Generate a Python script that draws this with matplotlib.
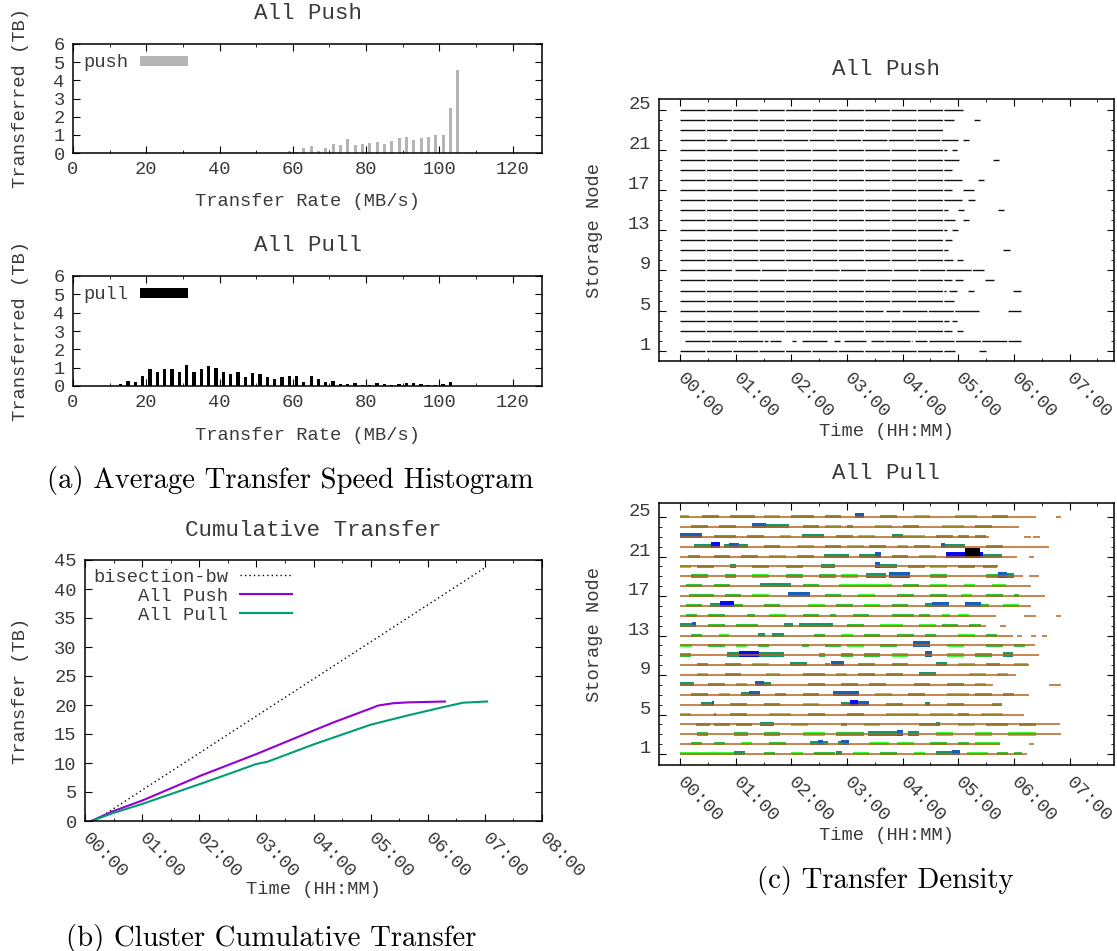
import numpy as np
import matplotlib
matplotlib.use("Agg")
import matplotlib.pyplot as plt
from matplotlib import transforms

# ---------------- (a) average transfer speed histogram ----------------
push_rate = [59, 61, 63, 65, 67, 69, 71, 73, 75, 77, 79, 81,
             83, 85, 87, 89, 91, 93, 95, 97, 99, 101, 103, 105]
push_tb = [0.13, 0.07, 0.26, 0.37, 0.13, 0.29, 0.51, 0.46, 0.75, 0.46, 0.51, 0.57,
           0.62, 0.51, 0.68, 0.84, 0.90, 0.73, 0.84, 0.90, 1.00, 1.00, 2.50, 4.57]

pull_rate = [13, 15, 17, 19, 21, 23, 25, 27, 29, 31, 33, 35, 37, 39, 41, 43,
             45, 47, 49, 51, 53, 55, 57, 59, 61, 63, 65, 67, 69, 71, 73, 75,
             77, 79, 81, 83, 85, 87, 89, 91, 93, 95, 97, 99, 101, 103]
pull_tb = [0.11, 0.27, 0.22, 0.56, 0.92, 0.76, 0.92, 0.92, 0.76, 1.14, 0.76, 0.92,
           1.09, 0.98, 0.76, 0.65, 0.76, 0.51, 0.69, 0.65, 0.51, 0.40, 0.51, 0.56,
           0.56, 0.22, 0.56, 0.40, 0.22, 0.27, 0.11, 0.11, 0.14, 0.07, 0.07, 0.14,
           0.11, 0.07, 0.11, 0.14, 0.14, 0.11, 0.05, 0.05, 0.11, 0.22]

# ---------------- (b) cumulative transfer (hours, TB) ----------------
bisect_t = [0.24, 7.03]
bisect_tb = [0.46, 43.85]
cum_push_t = [0.11, 0.47, 1.02, 2.02, 2.99, 4.00, 4.35, 5.00, 5.13, 5.39, 5.65, 6.30]
cum_push_tb = [0.0, 1.6, 3.6, 7.8, 11.5, 15.6, 17.0, 19.4, 19.9, 20.3, 20.45, 20.6]
cum_pull_t = [0.11, 0.47, 1.02, 2.02, 2.54, 2.99, 3.19, 4.00, 5.00, 5.65, 6.30, 6.62, 7.04]
cum_pull_tb = [0.0, 1.3, 3.0, 6.4, 8.2, 9.8, 10.2, 13.2, 16.6, 18.2, 19.7, 20.4, 20.6]

hour_ticks = [0, 1, 2, 3, 4, 5, 6, 7, 8]
hour_labels = ['00:00', '01:00', '02:00', '03:00', '04:00', '05:00', '06:00', '07:00', '08:00']

# ---------------- (c) transfer density, storage nodes 1..25 ----------------
nodes = list(range(1, 26))

# push: one long run per node, with gaps and a few late short runs
push_begin = [0, 0.08, 0, 0, 0, 0, 0, 0, 0, 0, 0, 0, 0,
              0, 0, 0, 0, 0, 0, 0, 0, 0, 0, 0, 0]
push_end = [4.94, 6.13, 4.88, 4.84, 5.38, 4.93, 4.78, 4.89, 5.46, 4.90, 4.81, 4.73, 4.80,
            4.94, 4.81, 5.06, 4.89, 5.06, 4.89, 5.02, 4.80, 5.00, 4.73, 4.93, 5.08]
push_gap_t0 = [[], [1.58, 1.81, 2.09, 2.66, 2.88, 3.34, 3.66, 4.16, 4.44], [], [], [3.65, 3.95],
               [], [], [], [0.95], [], [], [], [], [], [], [], [], [], [], [], [], [0.85], [], [], []]
push_gap_t1 = [[], [1.61, 2.01, 2.19, 2.77, 2.95, 3.44, 3.69, 4.22, 4.47], [], [], [3.70, 3.99],
               [], [], [], [0.99], [], [], [], [], [], [], [], [], [], [], [], [], [0.90], [], [], []]
push_xtra_t0 = [[5.38], [], [4.97], [4.88], [5.90], [], [4.84, 5.18, 5.98], [4.94, 5.48], [],
                [4.97], [5.81], [4.77], [4.88], [5.09], [5.00, 5.72], [5.18], [5.08], [5.36],
                [], [5.63], [4.88], [5.08], [], [5.29], []]
push_xtra_t1 = [[5.49], [], [5.08], [4.98], [6.13], [], [4.97, 5.28, 6.13], [5.09, 5.64], [],
                [5.09], [5.93], [4.89], [5.00], [5.20], [5.10, 5.83], [5.31], [5.28], [5.47],
                [], [5.73], [4.97], [5.20], [], [5.39], []]

# pull: base line per node, late short runs, and density blocks (level 1..6)
pull_end = [6.23, 5.75, 6.84, 6.83, 6.19, 5.78, 6.28, 5.63, 6.04, 6.27, 6.46, 6.38, 5.99,
            5.49, 5.67, 6.31, 6.56, 6.30, 6.17, 5.71, 6.06, 6.64, 5.56, 6.09, 6.39]
pull_xtra_t0 = [[], [6.28], [], [], [], [], [], [6.63], [], [], [], [], [6.06, 6.30, 6.50],
                [5.75], [6.19, 6.75], [], [], [], [6.28], [], [6.28], [], [6.19, 6.35], [], [6.75]]
pull_xtra_t1 = [[], [6.37], [], [], [], [], [], [6.84], [], [], [], [], [6.15, 6.40, 6.60],
                [5.85], [6.40, 6.84], [], [], [], [6.45], [], [6.37], [], [6.30, 6.47], [], [6.84]]
pull_blk_t0 = [
    [0.00, 0.97, 2.40, 2.81, 3.10, 4.60, 4.88, 5.16, 5.70, 1.50, 2.00, 3.60, 4.20, 6.00],
    [0.20, 1.60, 2.34, 2.47, 2.56, 2.84, 2.90, 3.40, 3.90, 5.30, 0.60, 1.10, 4.50, 5.00],
    [0.30, 0.97, 2.20, 3.38, 3.90, 4.10, 5.30, 5.90, 1.50, 2.80, 4.60, 3.10],
    [0.28, 1.00, 1.44, 2.90, 4.30, 4.60, 5.50, 0.60, 2.00, 3.30, 5.00, 6.10],
    [0.00, 0.60, 1.60, 3.70, 4.50, 5.40, 0.90, 2.30, 3.00, 5.00],
    [0.38, 0.57, 1.50, 2.90, 3.06, 3.20, 4.40, 5.60, 0.90, 2.20, 3.70, 4.80],
    [1.10, 1.23, 1.70, 2.20, 2.74, 4.80, 5.30, 0.20, 0.70, 3.50, 4.10, 5.80],
    [0.00, 1.35, 1.50, 2.30, 3.40, 4.20, 0.50, 1.00, 2.90, 4.80, 5.30],
    [0.30, 1.54, 2.20, 3.20, 4.30, 5.20, 0.80, 2.80, 3.70, 5.70],
    [0.30, 1.97, 2.60, 2.72, 4.60, 5.50, 6.00, 0.80, 1.30, 3.20, 3.80, 5.00],
    [0.00, 0.85, 1.06, 1.41, 2.50, 3.30, 4.40, 5.80, 2.90, 3.80, 4.80, 5.30],
    [0.00, 1.40, 2.19, 3.00, 4.19, 5.50, 0.50, 1.00, 2.60, 3.60, 4.80, 6.00],
    [0.69, 1.40, 1.66, 2.40, 3.30, 4.40, 0.20, 2.90, 3.90, 5.00, 5.50],
    [0.00, 0.22, 1.86, 2.13, 3.60, 4.70, 0.50, 1.00, 3.00, 4.30, 5.20],
    [0.50, 1.20, 2.70, 3.80, 4.70, 5.00, 0.10, 1.60, 2.20, 3.10, 4.30],
    [0.53, 0.72, 0.97, 2.30, 4.40, 4.53, 5.13, 5.41, 0.10, 1.50, 2.80, 3.30, 3.80, 5.80],
    [0.16, 1.94, 3.90, 5.05, 6.00, 0.80, 1.30, 2.60, 3.20, 4.50, 5.50],
    [0.60, 1.44, 2.85, 5.10, 5.60, 0.10, 2.20, 4.00, 4.50],
    [0.80, 3.35, 3.75, 5.50, 5.72, 5.87, 0.20, 1.30, 1.90, 2.50, 2.90, 4.50],
    [0.00, 0.90, 2.53, 3.50, 3.60, 4.50, 5.45, 0.30, 1.30, 1.90, 4.10, 5.00],
    [0.15, 2.59, 3.22, 3.50, 4.78, 5.13, 5.39, 5.44, 0.60, 1.10, 1.60, 2.10, 3.80, 4.30],
    [0.25, 0.56, 0.78, 0.88, 1.06, 3.00, 3.90, 4.69, 4.76, 1.50, 2.10, 2.60, 3.40, 4.20, 5.50],
    [0.00, 0.60, 1.80, 2.19, 3.80, 4.00, 5.00, 1.20, 2.80, 3.20, 4.60, 5.30],
    [1.29, 1.54, 3.00, 3.50, 4.70, 0.20, 0.70, 2.20, 2.60, 4.00, 5.30],
    [0.00, 0.90, 2.00, 3.14, 4.94, 0.40, 1.50, 2.60, 3.60, 4.20, 5.60],
]
pull_blk_t1 = [
    [0.97, 1.16, 2.78, 2.91, 3.40, 4.88, 5.03, 5.53, 5.90, 1.70, 2.20, 3.90, 4.40, 6.15],
    [0.40, 1.90, 2.47, 2.56, 2.65, 2.90, 3.03, 3.75, 4.20, 5.75, 0.80, 1.30, 4.80, 5.20],
    [0.50, 1.22, 2.60, 3.90, 4.00, 4.30, 5.60, 6.40, 1.80, 3.10, 4.90, 3.30],
    [0.53, 1.30, 1.69, 3.00, 4.60, 4.68, 5.90, 0.90, 2.30, 3.60, 5.30, 6.40],
    [0.20, 0.65, 2.00, 4.30, 4.90, 5.80, 1.20, 2.60, 3.30, 5.20],
    [0.57, 0.60, 1.80, 3.06, 3.20, 3.40, 4.50, 5.78, 1.20, 2.50, 4.00, 5.10],
    [1.23, 1.44, 1.90, 2.50, 3.22, 5.20, 5.60, 0.50, 0.90, 3.80, 4.40, 6.00],
    [0.25, 1.50, 1.64, 2.60, 3.70, 4.50, 0.80, 1.20, 3.20, 5.10, 5.50],
    [0.50, 1.80, 2.60, 3.50, 4.60, 5.50, 1.10, 3.00, 4.00, 5.90],
    [0.50, 2.28, 2.70, 2.94, 4.80, 5.75, 6.25, 1.10, 1.60, 3.50, 4.10, 5.30],
    [0.20, 1.06, 1.41, 1.87, 2.60, 3.60, 4.53, 5.98, 3.10, 4.10, 5.10, 5.60],
    [0.22, 1.60, 2.32, 3.30, 4.50, 5.80, 0.80, 1.20, 2.90, 3.90, 5.10, 6.20],
    [0.88, 1.53, 1.87, 2.60, 3.60, 4.60, 0.40, 3.10, 4.20, 5.30, 5.70],
    [0.22, 0.28, 2.03, 2.75, 4.00, 5.00, 0.80, 1.40, 3.30, 4.60, 5.40],
    [0.80, 1.35, 2.80, 4.20, 4.85, 5.20, 0.30, 1.90, 2.50, 3.40, 4.50],
    [0.72, 0.97, 1.13, 2.60, 4.53, 4.84, 5.41, 5.56, 0.40, 1.80, 3.10, 3.60, 4.10, 6.10],
    [0.60, 2.34, 4.20, 5.25, 6.10, 1.10, 1.60, 2.90, 3.50, 4.80, 5.80],
    [0.90, 2.00, 3.80, 5.30, 5.85, 0.40, 2.50, 4.30, 4.80],
    [1.00, 3.70, 4.13, 5.72, 5.87, 6.00, 0.50, 1.60, 2.20, 2.80, 3.20, 4.80],
    [0.20, 1.00, 2.78, 3.60, 3.90, 4.80, 5.70, 0.60, 1.60, 2.20, 4.40, 5.30],
    [0.35, 3.03, 3.50, 3.62, 5.13, 5.39, 5.44, 5.78, 0.90, 1.40, 1.90, 2.40, 4.10, 4.60],
    [0.56, 0.72, 0.88, 1.06, 1.22, 3.30, 4.10, 4.76, 5.12, 1.80, 2.40, 2.90, 3.70, 4.50, 5.80],
    [0.39, 1.00, 2.00, 2.59, 4.00, 4.40, 5.20, 1.50, 3.10, 3.50, 4.90, 5.50],
    [1.54, 1.96, 3.10, 3.80, 5.10, 0.50, 1.00, 2.50, 2.90, 4.30, 5.60],
    [0.16, 1.34, 2.40, 3.31, 5.34, 0.70, 1.80, 2.90, 3.90, 4.50, 5.90],
]
pull_blk_lvl = [
    [1, 3, 2, 3, 1, 3, 4, 1, 2, 2, 1, 2, 1, 2],
    [2, 2, 3, 4, 3, 3, 4, 1, 1, 1, 2, 1, 2, 2],
    [2, 2, 1, 3, 4, 3, 1, 1, 2, 2, 1, 2],
    [2, 2, 3, 2, 2, 3, 2, 2, 1, 1, 1, 2],
    [1, 2, 1, 1, 1, 1, 2, 2, 2, 2],
    [3, 4, 2, 3, 5, 4, 3, 2, 2, 1, 2, 2],
    [3, 4, 2, 2, 4, 1, 2, 2, 1, 1, 2, 2],
    [3, 4, 3, 2, 2, 2, 2, 1, 2, 2, 1],
    [1, 1, 2, 2, 3, 1, 2, 1, 2, 1],
    [2, 3, 2, 4, 3, 2, 1, 2, 1, 2, 2, 1],
    [2, 3, 5, 3, 2, 2, 4, 3, 2, 1, 1, 2],
    [1, 2, 2, 1, 4, 2, 2, 1, 2, 2, 1, 2],
    [1, 3, 3, 2, 2, 2, 2, 1, 2, 1, 2],
    [3, 4, 3, 3, 1, 2, 2, 2, 2, 1, 2],
    [2, 2, 2, 2, 1, 1, 2, 1, 2, 2, 2],
    [3, 5, 2, 1, 3, 4, 4, 2, 2, 2, 2, 1, 2, 1],
    [2, 4, 2, 1, 2, 2, 1, 2, 1, 2, 2],
    [2, 3, 1, 1, 1, 2, 2, 2, 1],
    [2, 3, 4, 2, 4, 3, 2, 1, 2, 2, 1, 2],
    [1, 3, 3, 4, 3, 1, 2, 2, 2, 2, 2, 2],
    [2, 3, 3, 4, 5, 6, 5, 3, 2, 2, 1, 2, 2, 1],
    [3, 5, 3, 4, 3, 1, 1, 4, 3, 2, 1, 2, 2, 2, 2],
    [4, 2, 1, 3, 3, 1, 2, 2, 2, 1, 2, 2],
    [4, 3, 2, 1, 1, 2, 2, 2, 1, 2, 2],
    [1, 2, 2, 4, 1, 2, 1, 2, 2, 1, 2],
]

lvl_color = {1: '#38f838', 2: '#2fc23a', 3: '#139868', 4: '#1560b8', 5: '#0a0af0', 6: '#000000'}
lvl_height = {1: 0.32, 2: 0.32, 3: 0.42, 4: 0.55, 5: 0.60, 6: 0.95}

txt = '#3a3a3a'
plt.rcParams.update({
    'font.family': 'Liberation Mono',
    'font.size': 13.5,
    'axes.linewidth': 1.1,
    'xtick.direction': 'in', 'ytick.direction': 'in',
    'xtick.top': True, 'ytick.right': True,
    'xtick.major.size': 5, 'ytick.major.size': 5,
    'xtick.minor.size': 2.5, 'ytick.minor.size': 2.5,
    'xtick.major.pad': 6, 'ytick.major.pad': 6,
    'text.color': txt, 'xtick.labelcolor': txt, 'ytick.labelcolor': txt,
    'axes.labelcolor': txt,
})

W, H = 1117, 951
fig = plt.figure(figsize=(W / 100, H / 100), dpi=100)


def frame(x0, y0, x1, y1):
    return fig.add_axes([x0 / W, 1 - y1 / H, (x1 - x0) / W, (y1 - y0) / H])


def histogram(ax, rate, tb, color, width, name, title):
    ax.bar(rate, tb, width=width, color=color, label=name, linewidth=0)
    ax.set_xlim(0, 128)
    ax.set_ylim(0, 6)
    ax.set_xticks([0, 20, 40, 60, 80, 100, 120])
    ax.set_xticks(range(10, 128, 10), minor=True)
    ax.set_yticks(range(7))
    ax.set_title(title, pad=18)
    ax.set_xlabel('Transfer Rate (MB/s)')
    ax.xaxis.set_label_coords(0.5, -0.37)
    ax.set_ylabel('Transferred (TB)')
    ax.yaxis.set_label_coords(-0.094, 0.5)
    ax.legend(loc='upper left', frameon=False, markerfirst=False, handlelength=2.6,
              handleheight=0.45, handletextpad=0.6, borderaxespad=0.25, borderpad=0.3)


ax1 = frame(73, 44, 542, 153)
histogram(ax1, push_rate, push_tb, '#b4b4b4', 0.8, 'push', 'All Push')
ax2 = frame(73, 276, 542, 386)
histogram(ax2, pull_rate, pull_tb, 'black', 0.9, 'pull', 'All Pull')

# cumulative transfer
ax3 = frame(85, 560, 542, 821)
ax3.plot(bisect_t, bisect_tb, linestyle=(0, (1, 2.2)), color='black', lw=1.0, label='bisection-bw')
ax3.plot(cum_push_t, cum_push_tb, color='#9400d3', lw=1.5, label='All Push')
ax3.plot(cum_pull_t, cum_pull_tb, color='#009e73', lw=1.5, label='All Pull')
ax3.set_xlim(0, 8)
ax3.set_ylim(0, 45)
ax3.set_yticks(range(0, 46, 5))
ax3.set_xticks(hour_ticks, hour_labels, rotation=-45, ha='left', va='center', rotation_mode='anchor')
ax3.set_xticks(np.arange(0.5, 8, 1), minor=True)
ax3.tick_params(axis='x', which='major', pad=11)
ax3.set_title('Cumulative Transfer', pad=17)
ax3.set_xlabel('Time (HH:MM)')
ax3.xaxis.set_label_coords(0.5, -0.23)
ax3.set_ylabel('Transfer (TB)')
ax3.yaxis.set_label_coords(-0.1225, 0.5)
ax3.legend(loc='upper left', frameon=False, markerfirst=False, handlelength=2.8,
           handletextpad=0.6, labelspacing=0.1, borderaxespad=0.25, borderpad=0.2)


def density_axes(ax, ylim, title):
    ax.set_xlim(-0.38, 7.8)
    ax.set_ylim(*ylim)
    ax.set_xticks(hour_ticks[:8], hour_labels[:8], rotation=-45, ha='left', va='center',
                  rotation_mode='anchor')
    ax.set_xticks(np.arange(0.5, 7.8, 1), minor=True)
    ax.tick_params(axis='x', which='major', pad=11)
    ax.set_yticks([1, 5, 9, 13, 17, 21, 25])
    ax.set_yticks(nodes, minor=True)
    ax.set_title(title, pad=17)
    ax.set_xlabel('Time (HH:MM)')
    ax.xaxis.set_label_coords(0.5, -0.235)
    ax.set_ylabel('Storage Node')
    ax.yaxis.set_label_coords(-0.123, 0.5)
    # tick labels sit a little above the rows, as in the original
    off = transforms.ScaledTranslation(0, 0.075, fig.dpi_scale_trans)
    for lab in ax.get_yticklabels():
        lab.set_transform(lab.get_transform() + off)


def split_run(t0, t1, gaps0, gaps1):
    runs, cur = [], t0
    for g0, g1 in zip(gaps0, gaps1):
        runs.append((cur, g0))
        cur = g1
    runs.append((cur, t1))
    return runs


ax4 = frame(659, 99, 1114, 361)
for i, n in enumerate(nodes):
    runs = split_run(push_begin[i], push_end[i], push_gap_t0[i], push_gap_t1[i])
    runs += list(zip(push_xtra_t0[i], push_xtra_t1[i]))
    for a, b in runs:
        ax4.hlines(n, a, b, color='#111111', lw=1.0, linestyles=[(0, (18, 1.0))])
density_axes(ax4, (-0.03, 26.1), 'All Push')

ax5 = frame(659, 503, 1114, 765)
for i, n in enumerate(nodes):
    ax5.hlines(n, 0, pull_end[i], color='#b8621e', lw=1.1)
    for a, b in zip(pull_xtra_t0[i], pull_xtra_t1[i]):
        ax5.hlines(n, a, b, color='#b8621e', lw=1.1)
    for a, b, lv in zip(pull_blk_t0[i], pull_blk_t1[i], pull_blk_lvl[i]):
        ax5.bar(a, lvl_height[lv], width=b - a, bottom=n - 0.13, align='edge',
                color=lvl_color[lv], linewidth=0)
density_axes(ax5, (-0.11, 26.42), 'All Pull')

cap = dict(family='cmr10', size=20.7, ha='center', va='center', color='black')
fig.text(290 / W, 1 - 480 / H, '(a) Average Transfer Speed Histogram', **cap)
fig.text(271 / W, 1 - 938 / H, '(b) Cluster Cumulative Transfer', **cap)
fig.text(885 / W, 1 - 880 / H, '(c) Transfer Density', **cap)

fig.savefig('out.png', dpi=100)
